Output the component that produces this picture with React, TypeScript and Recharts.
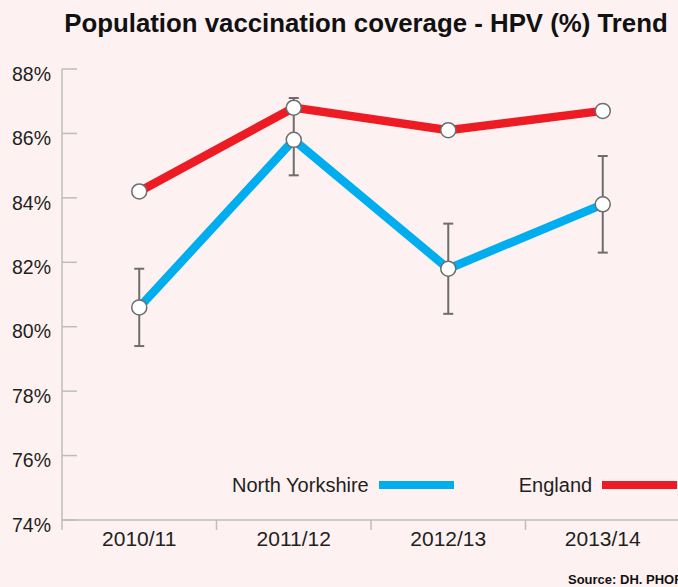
import React from "react";
import { LineChart, Line, XAxis, YAxis, ErrorBar, Legend } from "recharts";

// values
const categories = ["2010/11", "2011/12", "2012/13", "2013/14"];
const seriesNames = ["North Yorkshire", "England"];
const northYorkshire = [80.6, 85.8, 81.8, 83.8];
const northYorkshireLower = [79.4, 84.7, 80.4, 82.3];
const northYorkshireUpper = [81.8, 87.1, 83.2, 85.3];
const england = [84.2, 86.8, 86.1, 86.7];
const yTicks = [74, 76, 78, 80, 82, 84, 86, 88];

const FONT = "'Liberation Sans', Arial, Helvetica, sans-serif";
const TEXT = "#231f20";
const AXIS = "#bdbdbd";
const BG = "#fdf1f1";
const CHART_W = 680;
const CHART_H = 587;
const Y_AXIS_W = 62;
const BAND = (CHART_W - Y_AXIS_W) / categories.length;

const data = categories.map((name, i) => ({
  name,
  ny: northYorkshire[i],
  nyErr: [
    +(northYorkshire[i] - northYorkshireLower[i]).toFixed(2),
    +(northYorkshireUpper[i] - northYorkshire[i]).toFixed(2),
  ],
  eng: england[i],
}));

const YTick = (props: any) => {
  const { x, y, payload } = props;
  return (
    <g>
      <line x1={x} x2={x + 15} y1={y} y2={y} stroke={AXIS} strokeWidth={1.5} />
      <text x={x - 11} y={y + 11.7} textAnchor="end" fill={TEXT} fontSize={19.5} fontFamily={FONT}>
        {payload.value}%
      </text>
    </g>
  );
};

const XTick = (props: any) => {
  const { x, y, payload } = props;
  const bx = x - BAND / 2;
  return (
    <g>
      <line x1={bx} x2={bx} y1={y} y2={y + 10} stroke={AXIS} strokeWidth={1.5} />
      <text x={x} y={y + 25.5} textAnchor="middle" fill={TEXT} fontSize={21} fontFamily={FONT}>
        {payload.value}
      </text>
    </g>
  );
};

const LegendContent = (props: any) => {
  const items = [...(props.payload || [])].sort(
    (a: any, b: any) => seriesNames.indexOf(a.value) - seriesNames.indexOf(b.value)
  );
  return (
    <div style={{ display: "flex", alignItems: "center", paddingLeft: 232, gap: 65, height: 20 }}>
      {items.map((p: any) => (
        <div key={p.value} style={{ display: "flex", alignItems: "center" }}>
          <span style={{ fontFamily: FONT, fontSize: 20, lineHeight: "20px", color: TEXT, whiteSpace: "nowrap" }}>
            {p.value}
          </span>
          <span style={{ display: "inline-block", width: 75, height: 8, marginLeft: 10, background: p.color }} />
        </div>
      ))}
    </div>
  );
};

const dot = { r: 7.5, fill: "#fff", stroke: "#6d6d6d", strokeWidth: 1.5 };

export default function App() {
  return (
    <div
      style={{
        position: "absolute",
        left: 0,
        top: 0,
        width: 678,
        height: 587,
        overflow: "hidden",
        background: BG,
      }}
    >
      <div
        style={{
          position: "absolute",
          left: 0,
          top: 11,
          width: 732,
          textAlign: "center",
          whiteSpace: "nowrap",
          fontFamily: FONT,
          fontWeight: "bold",
          fontSize: 25.8,
          lineHeight: 1,
          color: "#111",
        }}
      >
        Population vaccination coverage - HPV (%) Trend
      </div>

      <LineChart
        width={CHART_W}
        height={CHART_H}
        data={data}
        margin={{ top: 69, right: 0, left: 0, bottom: 27 }}
        style={{ position: "absolute", left: 0, top: 0 }}
      >
        <XAxis
          dataKey="name"
          scale="band"
          height={40}
          axisLine={{ stroke: AXIS, strokeWidth: 1.5 }}
          tickLine={false}
          tickSize={0}
          tickMargin={0}
          tick={<XTick />}
          interval={0}
        />
        <YAxis
          width={Y_AXIS_W}
          domain={[74, 88]}
          ticks={yTicks}
          axisLine={{ stroke: AXIS, strokeWidth: 1.5 }}
          tickLine={false}
          tickSize={0}
          tickMargin={0}
          tick={<YTick />}
          interval={0}
        />
        <Legend
          layout="horizontal"
          verticalAlign="middle"
          align="center"
          wrapperStyle={{ top: 475, left: 0, width: CHART_W, height: 20 }}
          content={<LegendContent />}
        />
        <Line
          name="North Yorkshire"
          type="linear"
          dataKey="ny"
          stroke="#00aeef"
          strokeWidth={8.5}
          dot={dot}
          activeDot={false}
          isAnimationActive={false}
        >
          <ErrorBar dataKey="nyErr" width={5} stroke="#6d6d6d" strokeWidth={2} direction="y" />
        </Line>
        <Line
          name="England"
          type="linear"
          dataKey="eng"
          stroke="#ed1c24"
          strokeWidth={8.5}
          dot={dot}
          activeDot={false}
          isAnimationActive={false}
        />
      </LineChart>

      <div
        style={{
          position: "absolute",
          left: 568,
          top: 573,
          whiteSpace: "nowrap",
          fontFamily: FONT,
          fontWeight: "bold",
          fontSize: 13,
          lineHeight: 1,
          color: "#111",
        }}
      >
        Source: DH. PHOF
      </div>
    </div>
  );
}
